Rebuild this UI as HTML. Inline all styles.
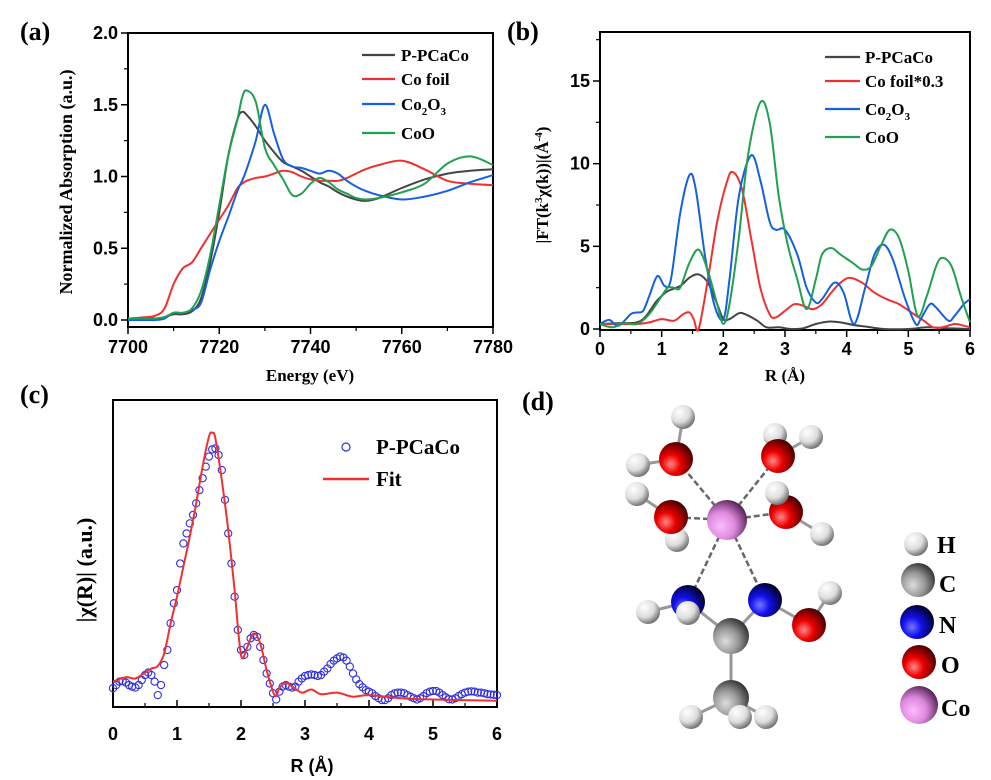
<!DOCTYPE html>
<html><head><meta charset="utf-8">
<style>
body{margin:0;background:#fff;}
svg{display:block;}
.tk{font-family:"Liberation Sans",Arial,sans-serif;font-weight:bold;font-size:18px;fill:#000;}
.sr{font-family:"Liberation Serif",serif;font-weight:bold;fill:#000;}
</style></head>
<body>
<svg id="fig" width="991" height="780" viewBox="0 0 991 780" xmlns="http://www.w3.org/2000/svg">
<rect width="991" height="780" fill="#fff"/>
<text class="sr" x="20" y="40" font-size="26">(a)</text>
<text class="sr" x="507" y="40" font-size="26">(b)</text>
<text class="sr" x="20" y="403" font-size="26">(c)</text>
<text class="sr" x="522" y="410" font-size="26">(d)</text>
<g id="gA"></g>
<g id="gB"></g>
<g id="gC"></g>
<g id="gD">
<defs>
<radialGradient id="gH" cx="35%" cy="30%" r="70%"><stop offset="0" stop-color="#fff"/><stop offset="0.6" stop-color="#ddd"/><stop offset="1" stop-color="#777"/></radialGradient>
<radialGradient id="gC2" cx="35%" cy="65%" r="70%"><stop offset="0" stop-color="#ddd"/><stop offset="0.5" stop-color="#999"/><stop offset="1" stop-color="#333"/></radialGradient>
<radialGradient id="gN" cx="35%" cy="65%" r="70%"><stop offset="0" stop-color="#77f"/><stop offset="0.4" stop-color="#11e"/><stop offset="1" stop-color="#002"/></radialGradient>
<radialGradient id="gO" cx="35%" cy="65%" r="70%"><stop offset="0" stop-color="#f88"/><stop offset="0.4" stop-color="#e00"/><stop offset="1" stop-color="#400"/></radialGradient>
<radialGradient id="gCo" cx="35%" cy="65%" r="70%"><stop offset="0" stop-color="#fbf"/><stop offset="0.5" stop-color="#d8d"/><stop offset="1" stop-color="#525"/></radialGradient>
</defs>
<g stroke="#666" stroke-width="2.5" stroke-dasharray="6,3">
<line x1="727" y1="520" x2="676" y2="459"/><line x1="727" y1="520" x2="778" y2="456"/>
<line x1="727" y1="520" x2="671" y2="517"/><line x1="727" y1="520" x2="786" y2="512"/>
<line x1="727" y1="520" x2="688" y2="602"/><line x1="727" y1="520" x2="765" y2="600"/>
</g>
<g stroke="#999" stroke-width="3">
<line x1="676" y1="459" x2="683" y2="417"/><line x1="676" y1="459" x2="638" y2="465"/>
<line x1="778" y1="456" x2="811" y2="437"/><line x1="671" y1="517" x2="637" y2="494"/>
<line x1="786" y1="512" x2="822" y2="534"/><line x1="688" y1="602" x2="648" y2="612"/>
<line x1="688" y1="602" x2="731" y2="636"/><line x1="765" y1="600" x2="731" y2="636"/>
<line x1="765" y1="600" x2="809" y2="625"/><line x1="809" y1="625" x2="830" y2="593"/>
<line x1="731" y1="636" x2="731" y2="698"/><line x1="731" y1="698" x2="691" y2="717"/>
<line x1="731" y1="698" x2="766" y2="717"/>
</g>
<g>
<circle cx="683" cy="417" r="12" fill="url(#gH)"/><circle cx="775" cy="435" r="12" fill="url(#gH)"/><circle cx="811" cy="437" r="12" fill="url(#gH)"/>
<circle cx="638" cy="465" r="12" fill="url(#gH)"/><circle cx="676" cy="459" r="17" fill="url(#gO)"/><circle cx="778" cy="456" r="17" fill="url(#gO)"/>
<circle cx="637" cy="494" r="12" fill="url(#gH)"/><circle cx="677" cy="540" r="12" fill="url(#gH)"/><circle cx="671" cy="517" r="17" fill="url(#gO)"/>
<circle cx="727" cy="520" r="20" fill="url(#gCo)"/>
<circle cx="786" cy="512" r="17" fill="url(#gO)"/><circle cx="777" cy="493" r="12" fill="url(#gH)"/><circle cx="822" cy="534" r="12" fill="url(#gH)"/>
<circle cx="648" cy="612" r="12" fill="url(#gH)"/><circle cx="688" cy="602" r="17" fill="url(#gN)"/><circle cx="688" cy="613" r="12" fill="url(#gH)"/>
<circle cx="765" cy="600" r="17" fill="url(#gN)"/><circle cx="830" cy="593" r="12" fill="url(#gH)"/><circle cx="809" cy="625" r="17" fill="url(#gO)"/>
<circle cx="731" cy="636" r="18" fill="url(#gC2)"/><circle cx="731" cy="698" r="18" fill="url(#gC2)"/>
<circle cx="691" cy="717" r="12" fill="url(#gH)"/><circle cx="766" cy="717" r="12" fill="url(#gH)"/><circle cx="740" cy="717" r="12" fill="url(#gH)"/>
</g>
<g>
<circle cx="916" cy="544" r="12" fill="url(#gH)"/><text class="sr" x="937" y="553" font-size="24">H</text>
<circle cx="918" cy="580" r="17" fill="url(#gC2)"/><text class="sr" x="939" y="592" font-size="24">C</text>
<circle cx="917" cy="622" r="17" fill="url(#gN)"/><text class="sr" x="939" y="633" font-size="24">N</text>
<circle cx="919" cy="662" r="17" fill="url(#gO)"/><text class="sr" x="941" y="673" font-size="24">O</text>
<circle cx="919" cy="705" r="19" fill="url(#gCo)"/><text class="sr" x="941" y="716" font-size="24">Co</text>
</g>
</g>
</svg>
<script>
// ---- Panel (a) data ----
const energyA=[7700,7704,7706,7708,7710,7712,7714,7716,7718,7720,7722,7724,7725,7726,7728,7730,7732,7734,7736,7738,7740,7742,7744,7746,7748,7750,7752,7755,7760,7765,7770,7775,7780];
const pPCaCoA=[0.01,0.01,0.01,0.02,0.04,0.04,0.06,0.15,0.40,0.75,1.15,1.40,1.45,1.43,1.35,1.25,1.17,1.10,1.07,1.04,1.00,0.96,0.93,0.89,0.86,0.84,0.83,0.85,0.92,0.98,1.02,1.04,1.05];
const coFoilA=[0.01,0.02,0.03,0.08,0.25,0.36,0.40,0.50,0.60,0.70,0.80,0.92,0.95,0.97,0.99,1.00,1.02,1.04,1.03,1.00,0.98,0.97,0.97,0.97,0.99,1.02,1.05,1.08,1.11,1.05,0.97,0.95,0.94];
const co2o3A=[0.00,0.00,0.00,0.01,0.05,0.05,0.07,0.12,0.35,0.55,0.72,0.90,0.97,1.05,1.25,1.50,1.30,1.12,1.07,1.06,1.04,1.02,1.04,1.02,0.97,0.93,0.90,0.87,0.84,0.86,0.90,0.96,1.01];
const coOA=[0.01,0.01,0.01,0.02,0.05,0.05,0.08,0.20,0.45,0.80,1.15,1.40,1.55,1.60,1.52,1.20,1.08,0.98,0.87,0.88,0.95,0.99,0.96,0.91,0.88,0.85,0.84,0.85,0.89,0.95,1.09,1.14,1.08];
const yTicksA=[0,0.5,1.0,1.5,2.0];
const xTicksA=[7700,7720,7740,7760,7780];
const legendA=["P-PCaCo","Co foil","Co2O3","CoO"];
// ---- Panel (b) data ----
const rB_blue=[0,0.15,0.3,0.5,0.6,0.7,0.8,0.93,1.05,1.15,1.3,1.45,1.55,1.7,1.85,2.0,2.1,2.25,2.45,2.6,2.75,2.85,3.0,3.2,3.35,3.5,3.6,3.8,3.95,4.12,4.3,4.45,4.6,4.75,4.95,5.12,5.2,5.35,5.45,5.65,5.75,5.9,6.0];
const co2o3B=[0.3,0.55,0.2,0.9,1.0,1.1,2.0,3.2,2.6,3.0,7.0,9.3,8.5,4.5,1.5,0.6,3.0,8.0,10.5,9.0,6.5,6.0,6.0,4.5,2.5,1.6,1.8,2.8,2.2,0.3,2.5,4.5,5.1,4.2,1.8,0.3,0.6,1.5,1.3,0.5,0.8,1.5,1.8];
const rB_green=[0,0.2,0.4,0.6,0.8,1.0,1.1,1.2,1.3,1.45,1.6,1.75,1.9,2.0,2.1,2.25,2.4,2.6,2.75,2.9,3.05,3.2,3.35,3.5,3.6,3.75,3.9,4.1,4.25,4.4,4.55,4.7,4.85,5.0,5.15,5.3,5.45,5.55,5.7,5.85,6.0];
const coOB=[0.3,0.1,0.35,0.3,0.9,2.0,2.5,2.5,2.5,4.0,4.8,3.5,1.5,0.3,1.5,5.5,10.5,13.7,12.5,8.0,5.0,3.0,1.2,3.0,4.5,4.9,4.5,4.0,3.6,3.8,5.0,6.0,5.5,3.5,0.8,2.0,3.8,4.3,3.8,2.0,0.4];
const rB_red=[0,0.3,0.6,0.8,1.0,1.2,1.35,1.45,1.52,1.6,1.75,1.9,2.05,2.15,2.3,2.45,2.6,2.75,2.85,3.0,3.15,3.3,3.45,3.6,3.75,3.9,4.05,4.25,4.45,4.65,4.85,5.05,5.25,5.4,5.55,5.75,5.9,6.0];
const coFoilB=[0.3,0.3,0.3,0.4,0.6,0.5,0.9,1.0,0.6,0.0,3.0,6.5,8.8,9.5,8.5,5.5,2.5,0.9,0.7,1.1,1.5,1.4,1.2,1.5,2.2,2.8,3.1,2.8,2.2,1.8,1.5,1.0,0.5,0.1,0.1,0.3,0.2,0.1];
const rB_black=[0,0.3,0.6,0.75,0.9,1.0,1.1,1.3,1.45,1.6,1.75,1.9,2.0,2.1,2.25,2.35,2.55,2.7,2.9,3.1,3.3,3.5,3.7,3.9,4.1,4.3,4.6,5.0,5.3,5.6,6.0];
const pPCaCoB=[0.3,0.35,0.4,0.8,1.6,2.0,2.3,2.6,3.1,3.3,2.8,1.5,0.6,0.6,0.95,0.9,0.5,0.1,0.1,0.0,0.05,0.3,0.45,0.4,0.25,0.15,0.0,0.0,0.1,0.05,0.0];
const yTicksB=[0,5,10,15];
const xTicksB=[0,1,2,3,4,5,6];
const legendB=["P-PCaCo","Co foil*0.3","Co2O3","CoO"];
// ---- Panel (c) data ----
const rC_fit=[0,0.2,0.35,0.5,0.6,0.7,0.8,0.9,1.0,1.1,1.2,1.3,1.4,1.5,1.55,1.6,1.7,1.8,1.9,1.97,2.02,2.1,2.2,2.3,2.4,2.5,2.55,2.6,2.7,2.8,2.95,3.1,3.25,3.5,3.75,4.0,4.5,5.0,6.0];
const fitC=[0.080,0.094,0.090,0.109,0.122,0.130,0.170,0.266,0.351,0.447,0.543,0.649,0.766,0.862,0.874,0.856,0.723,0.564,0.372,0.213,0.154,0.191,0.234,0.202,0.117,0.048,0.034,0.059,0.077,0.064,0.045,0.055,0.040,0.045,0.032,0.037,0.027,0.023,0.019];
const rC_data=[0,0.05,0.1,0.15,0.2,0.25,0.3,0.35,0.4,0.45,0.5,0.55,0.6,0.65,0.7,0.75,0.8,0.85,0.9,0.95,1.0,1.05,1.1,1.15,1.2,1.25,1.3,1.35,1.4,1.45,1.5,1.55,1.6,1.65,1.7,1.75,1.8,1.85,1.9,1.95,2.0,2.05,2.1,2.15,2.2,2.25,2.3,2.35,2.4,2.45,2.5,2.55,2.6,2.65,2.7,2.75,2.8,2.85,2.9,2.95,3.0,3.05,3.1,3.15,3.2,3.25,3.3,3.35,3.4,3.45,3.5,3.55,3.6,3.65,3.7,3.75,3.8,3.85,3.9,3.95,4.0,4.05,4.1,4.15,4.2,4.25,4.3,4.35,4.4,4.45,4.5,4.55,4.6,4.65,4.7,4.75,4.8,4.85,4.9,4.95,5.0,5.05,5.1,5.15,5.2,5.25,5.3,5.35,5.4,5.45,5.5,5.55,5.6,5.65,5.7,5.75,5.8,5.85,5.9,5.95,6.0];
const dataC=[0.059,0.069,0.080,0.082,0.077,0.069,0.064,0.061,0.069,0.085,0.101,0.109,0.101,0.080,0.037,0.069,0.133,0.181,0.266,0.330,0.372,0.457,0.521,0.553,0.585,0.612,0.649,0.691,0.729,0.766,0.798,0.821,0.824,0.803,0.755,0.660,0.553,0.457,0.351,0.245,0.181,0.165,0.191,0.218,0.229,0.223,0.191,0.149,0.106,0.074,0.043,0.023,0.048,0.064,0.069,0.064,0.061,0.064,0.080,0.090,0.098,0.101,0.103,0.101,0.098,0.101,0.112,0.122,0.136,0.147,0.154,0.160,0.157,0.147,0.128,0.106,0.087,0.072,0.062,0.053,0.048,0.043,0.034,0.027,0.021,0.021,0.027,0.037,0.043,0.045,0.045,0.043,0.037,0.032,0.027,0.023,0.027,0.034,0.043,0.048,0.050,0.050,0.045,0.037,0.030,0.024,0.023,0.027,0.034,0.040,0.045,0.048,0.049,0.048,0.045,0.045,0.043,0.040,0.039,0.038,0.037];
const xTicksC=[0,1,2,3,4,5,6];

const NS="http://www.w3.org/2000/svg";
function mk(parent,tag,attrs){const e=document.createElementNS(NS,tag);for(const k in attrs)e.setAttribute(k,attrs[k]);parent.appendChild(e);return e;}
function smooth(pts){let d="M"+pts[0][0].toFixed(1)+","+pts[0][1].toFixed(1);
 for(let i=0;i<pts.length-1;i++){const p0=pts[Math.max(0,i-1)],p1=pts[i],p2=pts[i+1],p3=pts[Math.min(pts.length-1,i+2)];
  const c1=[p1[0]+(p2[0]-p0[0])/6,p1[1]+(p2[1]-p0[1])/6],c2=[p2[0]-(p3[0]-p1[0])/6,p2[1]-(p3[1]-p1[1])/6];
  d+="C"+c1[0].toFixed(1)+","+c1[1].toFixed(1)+" "+c2[0].toFixed(1)+","+c2[1].toFixed(1)+" "+p2[0].toFixed(1)+","+p2[1].toFixed(1);}
 return d;}
function lin(d0,d1,p0,p1){return v=>p0+(v-d0)/(d1-d0)*(p1-p0);}
function frame(g,x0,y0,x1,y1){const r=mk(g,"rect",{x:x0,y:y0,width:x1-x0,height:y1-y0,fill:"none",stroke:"#000","stroke-width":2});
 
 }
function series(g,xs,ys,sx,sy,color,name){const p=mk(g,"path",{d:smooth(xs.map((x,i)=>[sx(x),sy(ys[i])])),fill:"none",stroke:color,"stroke-width":2});
 
 }
function legLine(g,x0,x1,y,color,label,tx,name){
 const l=mk(g,"line",{x1:x0,x2:x1,y1:y,y2:y,stroke:color,"stroke-width":2.2});
 
 
 const t=mk(g,"text",{x:tx,y:y+6,class:"sr","font-size":17});
 
 
 if(label==="Co2O3"){t.appendChild(document.createTextNode("Co"));const s1=mk(t,"tspan",{dy:5,"font-size":11});s1.textContent="2";const s2=mk(t,"tspan",{dy:-5});s2.textContent="O";const s3=mk(t,"tspan",{dy:5,"font-size":11});s3.textContent="3";}
 else t.textContent=label;}
const colors=["#444","#f03030","#1560e0","#20a050"];

// Panel A
(function(){const g=document.getElementById("gA");const X0=128,X1=493,Y0=33,Y1=327;
 const sx=lin(7700,7780,X0,X1),sy=lin(0,2,320,33);
 frame(g,X0,Y0,X1,Y1);
 yTicksA.forEach(v=>{const y=sy(v);mk(g,"line",{x1:X0-7,x2:X0,y1:y,y2:y,stroke:"#000","stroke-width":1.5});
  const t=mk(g,"text",{x:X0-10,y:y+6,class:"tk","text-anchor":"end"});t.textContent=v.toFixed(1);
  
  
  if(v<2){const ym=sy(v+0.25);mk(g,"line",{x1:X0-4,x2:X0,y1:ym,y2:ym,stroke:"#000","stroke-width":1.2});}});
 xTicksA.forEach(v=>{const x=sx(v);mk(g,"line",{x1:x,x2:x,y1:Y1,y2:Y1+7,stroke:"#000","stroke-width":1.5});
  const t=mk(g,"text",{x:x,y:353,class:"tk","text-anchor":"middle"});t.textContent=v;
  
  
  if(v<7780){const xm=sx(v+10);mk(g,"line",{x1:xm,x2:xm,y1:Y1,y2:Y1+4,stroke:"#000","stroke-width":1.2});}});
 const xt=mk(g,"text",{x:310,y:381,class:"sr","font-size":17,"text-anchor":"middle"});xt.textContent="Energy (eV)";
 
 
 const yt=mk(g,"text",{x:0,y:0,class:"sr","font-size":18,"text-anchor":"middle",transform:"translate(72,182) rotate(-90)"});yt.textContent="Normalized Absorption (a.u.)";
 
 
 const ser=[pPCaCoA,coFoilA,co2o3A,coOA],nm=["series-p-pcaco","series-co-foil","series-co2o3","series-coo"];
 ser.forEach((s,i)=>series(g,energyA,s,sx,sy,colors[i],nm[i]));
 [55,79,104,133].forEach((y,i)=>legLine(g,362,395,y,colors[i],legendA[i],401,"legend-a-"+i));
})();

// Panel B
(function(){const g=document.getElementById("gB");const X0=600,X1=970,Y0=32,Y1=330;
 const sx=lin(0,6,X0,X1),sy=lin(0,15,329,81);
 frame(g,X0,Y0,X1,Y1);
 yTicksB.forEach(v=>{const y=sy(v);mk(g,"line",{x1:X0-7,x2:X0,y1:y,y2:y,stroke:"#000","stroke-width":1.5});
  const t=mk(g,"text",{x:X0-10,y:y+6,class:"tk","text-anchor":"end"});t.textContent=v;
  
  
  const ym=sy(v+2.5);if(ym>Y0)mk(g,"line",{x1:X0-4,x2:X0,y1:ym,y2:ym,stroke:"#000","stroke-width":1.2});});
 xTicksB.forEach(v=>{const x=sx(v);mk(g,"line",{x1:x,x2:x,y1:Y1,y2:Y1+7,stroke:"#000","stroke-width":1.5});
  const t=mk(g,"text",{x:x,y:355,class:"tk","text-anchor":"middle"});t.textContent=v;
  
  
  if(v<6){const xm=sx(v+0.5);mk(g,"line",{x1:xm,x2:xm,y1:Y1,y2:Y1+4,stroke:"#000","stroke-width":1.2});}});
 const xt=mk(g,"text",{x:785,y:381,class:"sr","font-size":17,"text-anchor":"middle"});xt.textContent="R (Å)";
 
 
 const yt=mk(g,"text",{x:0,y:0,class:"sr","font-size":17,"text-anchor":"middle",transform:"translate(548,185) rotate(-90)"});
 
 
 yt.appendChild(document.createTextNode("|FT(k"));let s=mk(yt,"tspan",{dy:-6,"font-size":11});s.textContent="3";
 s=mk(yt,"tspan",{dy:6});s.textContent="χ(k))|(Å";s=mk(yt,"tspan",{dy:-6,"font-size":11});s.textContent="-4";s=mk(yt,"tspan",{dy:6});s.textContent=")";
 series(g,rB_black,pPCaCoB,sx,sy,colors[0],"series-p-pcaco");
 series(g,rB_red,coFoilB,sx,sy,colors[1],"series-co-foil-0.3");
 series(g,rB_blue,co2o3B,sx,sy,colors[2],"series-co2o3");
 series(g,rB_green,coOB,sx,sy,colors[3],"series-coo");
 [57,81,109,137].forEach((y,i)=>legLine(g,825,860,y,colors[i],legendB[i],865,"legend-b-"+i));
})();

// Panel C
(function(){const g=document.getElementById("gC");const X0=113,X1=497,Y0=400,Y1=707;
 const sx=lin(0,6,X0,X1),sy=lin(0,1,706.7,393.3);
 frame(g,X0,Y0,X1,Y1);
 xTicksC.forEach(v=>{const x=sx(v);mk(g,"line",{x1:x,x2:x,y1:Y1,y2:Y1-7,stroke:"#000","stroke-width":1.5});
  const t=mk(g,"text",{x:x,y:740,class:"tk","text-anchor":"middle","font-size":22});t.textContent=v;
  
  
  if(v<6){const xm=sx(v+0.5);mk(g,"line",{x1:xm,x2:xm,y1:Y1,y2:Y1-4,stroke:"#000","stroke-width":1.2});}});
 const xt=mk(g,"text",{x:312,y:772,class:"tk","font-size":22,"text-anchor":"middle"});xt.textContent="R (Å)";
 
 
 const yt=mk(g,"text",{x:0,y:0,class:"sr","font-size":22,"text-anchor":"middle",transform:"translate(92,570) rotate(-90)"});yt.textContent="|χ(R)| (a.u.)";
 
 
 rC_data.forEach((r,i)=>{const c=mk(g,"circle",{cx:sx(r),cy:sy(dataC[i]),r:3.6,fill:"none",stroke:"#3030e0","stroke-width":1.1});
  
  });
 series(g,rC_fit,fitC,sx,sy,"#f03030","fit-line");
 const lc=mk(g,"circle",{cx:346,cy:447,r:4,fill:"none",stroke:"#3030e0","stroke-width":1.2});
 
 
 const t1=mk(g,"text",{x:376,y:454,class:"sr","font-size":21});t1.textContent="P-PCaCo";
 
 
 const ll=mk(g,"line",{x1:323,x2:369,y1:479,y2:479,stroke:"#f03030","stroke-width":2.5});
 
 
 const t2=mk(g,"text",{x:376,y:486,class:"sr","font-size":21});t2.textContent="Fit";
 
 
})();
</script>
</body></html>
